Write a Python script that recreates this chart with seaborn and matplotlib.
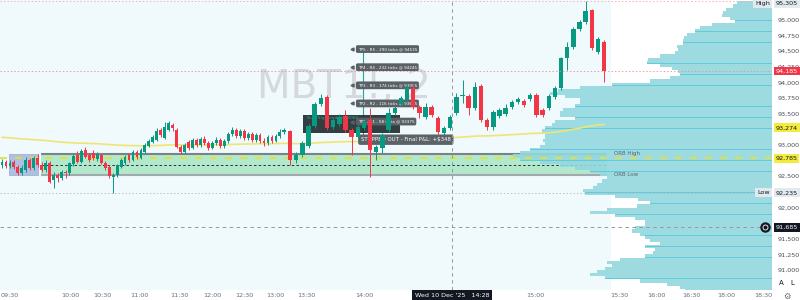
import numpy as np
import pandas as pd
import matplotlib
matplotlib.use("Agg")
import matplotlib.pyplot as plt
import seaborn as sns
from matplotlib.patches import Rectangle
from matplotlib.transforms import blended_transform_factory as blend

# ---------------- data ----------------
opens = [92680, 92728, 92664, 92728, 92648, 92552, 92600, 92760, 92632, 92792,
         92680, 92600, 92712, 92440, 92520, 92472, 92568, 92552, 92696, 92840,
         92728, 92920, 92840, 92872, 92776, 92840, 92712, 92648, 92488, 92520,
         92648, 92712, 92840, 92760, 92888, 92792, 92888, 92984, 93048, 93080,
         93240, 93112, 93240, 93320, 93240, 92968, 92888, 93048, 92952, 93080,
         93000, 93096, 93032, 92952, 93032, 93080, 92984, 93064, 93176, 93240,
         93144, 93224, 93112, 93176, 93080, 93160, 93064, 93032, 93128, 93064,
         93144, 93208, 93224, 92760, 92840, 92984, 93304, 93656, 93768, 93288,
         93336, 93464, 93240, 93128, 93272, 93400, 92888, 92952, 93240, 93512,
         93656, 93720, 93912, 93608, 93448, 93608, 93432, 93192, 93272, 93512,
         93784, 93784, 93592, 93944, 93400, 93288, 93464, 93496, 93608, 93688,
         93704, 93736, 93800, 93560, 93592, 93768, 93912, 94392, 94568, 94856,
         94968, 95160, 94488, 94648]
closes = [92728, 92664, 92712, 92648, 92552, 92632, 92760, 92632, 92792, 92680,
          92600, 92712, 92408, 92520, 92472, 92568, 92552, 92712, 92824, 92728,
          92904, 92808, 92760, 92792, 92856, 92712, 92632, 92504, 92520, 92680,
          92760, 92808, 92760, 92888, 92808, 92920, 93000, 93064, 93128, 93224,
          93160, 93288, 93352, 93272, 92968, 92888, 93000, 92952, 93080, 93000,
          93096, 93032, 92952, 93032, 93080, 92984, 93064, 93176, 93240, 93144,
          93224, 93112, 93176, 93080, 93160, 93064, 93032, 93128, 93064, 93144,
          93208, 93240, 92760, 92840, 93032, 93304, 93656, 93752, 93272, 93400,
          93448, 93240, 93128, 93288, 93368, 92920, 92968, 93160, 93512, 93592,
          93752, 93912, 93608, 93512, 93608, 93480, 93208, 93272, 93448, 93768,
          93800, 93592, 93928, 93400, 93288, 93528, 93560, 93592, 93688, 93736,
          93640, 93800, 93480, 93480, 93784, 93912, 94392, 94568, 94856, 94968,
          95144, 94552, 94696, 94185]
highs = [92776, 92760, 92760, 92760, 92680, 92680, 92808, 92792, 92824, 92856,
         92728, 92760, 92744, 92568, 92552, 92600, 92600, 92728, 92856, 92904,
         92936, 92968, 92872, 92920, 92888, 92856, 92744, 92680, 92552, 92696,
         92792, 92840, 92872, 92920, 92920, 92952, 93032, 93096, 93160, 93272,
         93272, 93368, 93384, 93352, 93272, 93000, 93032, 93080, 93112, 93112,
         93128, 93144, 93064, 93064, 93128, 93112, 93096, 93208, 93288, 93272,
         93256, 93256, 93208, 93208, 93192, 93192, 93112, 93160, 93160, 93176,
         93256, 93272, 93240, 92888, 93064, 93336, 93688, 93816, 93800, 93432,
         93496, 93560, 93272, 93320, 93400, 93592, 93000, 93192, 93592, 93624,
         93784, 93976, 93976, 93640, 93672, 93640, 93464, 93304, 93480, 93832,
         94040, 93816, 94008, 93976, 93432, 93560, 93592, 93656, 93720, 93768,
         93736, 93832, 93832, 93592, 93816, 93944, 94408, 94648, 94888, 95000,
         95305, 95176, 94728, 94680]
lows = [92632, 92632, 92632, 92616, 92520, 92520, 92568, 92600, 92600, 92648,
        92568, 92568, 92392, 92312, 92408, 92440, 92472, 92520, 92664, 92712,
        92712, 92792, 92728, 92760, 92744, 92696, 92600, 92472, 92235, 92488,
        92632, 92680, 92728, 92744, 92776, 92776, 92872, 92968, 93032, 93064,
        93128, 93096, 93224, 93224, 92952, 92856, 92872, 92920, 92936, 92968,
        92968, 93000, 92920, 92936, 93000, 92952, 92952, 93032, 93144, 93112,
        93112, 93080, 93080, 93048, 93048, 93032, 92984, 93000, 93032, 93048,
        93112, 93176, 92680, 92712, 92808, 92952, 93272, 93624, 93240, 93256,
        93304, 93208, 92840, 93096, 93240, 92488, 92760, 92872, 93208, 93480,
        93624, 93688, 93576, 93432, 93416, 93448, 93176, 93160, 93240, 93480,
        93672, 93480, 93560, 93368, 93240, 93240, 93432, 93464, 93576, 93656,
        93608, 93704, 93448, 93448, 93560, 93736, 93880, 94200, 94536, 94824,
        94936, 94520, 94456, 94008]

time_labels = ["09:30", "10:00", "10:30", "11:00", "11:30", "12:00", "12:30", "13:00",
               "13:30", "14:00", "15:00", "15:30", "16:00", "16:30", "18:00", "18:30"]

# volume profile, 50-point rows from 95,300 downwards
vp_row_top = 95300
vp_row = 50
vp_volume = [35, 39, 46, 49, 50, 42, 37, 60, 72, 77,
             85, 88, 89, 89, 95, 94, 97, 112, 124, 125,
             112, 100, 94, 92, 102, 122, 160, 192, 214, 222,
             207, 192, 192, 197, 209, 212, 212, 197, 217, 220,
             227, 230, 227, 227, 229, 227, 232, 242, 252, 259,
             252, 232, 212, 197, 182, 172, 165, 170, 175, 179,
             189, 187, 157, 134, 122, 135, 165, 182, 157, 137,
             127, 127, 137, 140, 132, 127, 122, 112, 127, 117,
             119, 127, 152, 165, 160, 167, 175, 182, 167, 132,
             105, 92, 87]
vp_group_top = 94989   # brighter row separators of the profile
vp_group = 172

orb_high, orb_low = 92856, 92520
level_yellow = 92785
ema_seed, ema_span, ema_label = 93128, 180, 93274
high_price, low_price = 95305, 92235
cross_price, cross_label = 91685, "Wed 10 Dec '25   14:28"
entry_price = 93085
tp_prices = [93375, 93665, 93955, 94245, 94535]
tp_ticks = [58, 116, 174, 232, 290]
final_pnl = "+$348"
right_ticks = [91000, 91250, 91500, 92000, 92500, 93000, 93500, 93750,
               94000, 94250, 94500, 94750, 95000]

# ---------------- layout constants ----------------
time_tick_bars = [2.0, 17.1, 25.4, 34.5, 44.6, 52.9, 61.0, 68.8,
                  74.7, 84.0, 111.9, 125.4, 131.4, 137.1, 142.9, 148.9]
cross_bar = 98.3
trade_bar = 84
orb_first, orb_last = 2, 9

GREEN, RED = "#089981", "#f23645"
BG = "#f0f9fc"

sns.set_theme(style="white", rc={"lines.scale_dashes": False})
plt.rcParams["font.family"] = ["DejaVu Sans"]

fig = plt.figure(figsize=(8, 3), dpi=100)
fig.patch.set_facecolor("white")
ax = fig.add_axes([0, 10 / 300, 772 / 800, 290 / 300])
ax.set_facecolor("white")

# bar-index scale: dense bars in the morning, wider bars later
X0, S1, BRK, S2 = 2.0, 3.97, 71, 6.16
PB = X0 + BRK * S1


def fwd(i):
    i = np.asarray(i, dtype=float)
    return np.where(i <= BRK, X0 + i * S1, PB + (i - BRK) * S2)


def inv(p):
    p = np.asarray(p, dtype=float)
    return np.where(p <= PB, (p - X0) / S1, BRK + (p - PB) / S2)


ax.set_xscale("function", functions=(fwd, inv))
xl, xr = float(inv(0)), float(inv(772))
ax.set_xlim(xl, xr)
ax.set_ylim(90680, 95320)

n = len(closes)
bars = np.arange(n)
o = np.array(opens, float); c = np.array(closes, float)
h = np.array(highs, float); l = np.array(lows, float)

# session background
ax.axvspan(xl, n - 1 + 1.1, color=BG, lw=0, zorder=0)

# watermark
ax.text(0.445, 0.70, "MBT1!, 2", transform=ax.transAxes, fontsize=28,
        color="#d5d8dc", ha="center", va="center", zorder=0.5)

# opening range box and band
ax.add_patch(Rectangle((orb_first - 0.25, orb_low), orb_last - orb_first + 0.35,
                       orb_high - orb_low, fc="#b0c0e2", ec="#9eabc9", lw=0.5, zorder=1.5))
b0, b1 = orb_last + 0.8, n - 1 + 0.45
ax.add_patch(Rectangle((b0, orb_low), b1 - b0, orb_high - orb_low,
                       fc="#b2e8cb", ec="none", zorder=1.6))
ax.hlines(orb_high, b0, b1, color="#7d8286", lw=1.5, zorder=2.2)
ax.hlines(orb_low, b0, b1, color="#a3a9ad", lw=1.5, zorder=2.2)
ax.hlines((orb_high + orb_low) / 2, b0, b1, color="#2a2e39", lw=0.7,
          linestyles=(0, (1.8, 1.6)), zorder=2.3)
ax.text(n - 1 + 1.6, orb_high, "ORB High", fontsize=4, color="#5d606b", va="center", zorder=6)
ax.text(n - 1 + 1.6, orb_low, "ORB Low", fontsize=4, color="#5d606b", va="center", zorder=6)

# volume profile
vp = np.array(vp_volume, float)
vp_prices = vp_row_top - vp_row / 2 - vp_row * np.arange(len(vp))
vp_scale = 42.1 / vp.max()
w = vp * vp_scale
ax.barh(vp_prices, w, left=xr - w, height=vp_row, color="#93d8de", lw=0,
        alpha=0.9, zorder=2.5)
# brighter separators between coarser profile groups
sep = np.arange(vp_group_top, 90700, -vp_group)
sep_idx = np.clip(((vp_row_top - sep) // vp_row).astype(int), 0, len(vp) - 1)
sep_w = w[sep_idx]
ax.barh(sep, sep_w, left=xr - sep_w, height=14, color="#5fcbdc", lw=0, zorder=2.55)

# yellow level
ax.axhline(level_yellow, color="#e6df35", lw=1.3, ls=(0, (5, 5.8)), zorder=3)

# EMA
ema = pd.Series([ema_seed] + list(closes)).ewm(span=ema_span, adjust=False).mean().iloc[1:].to_numpy()
sns.lineplot(x=bars, y=ema, ax=ax, color="#efe574", lw=1.2, zorder=3, sort=False)

# trade annotation
ax.vlines(trade_bar - 0.15, entry_price, tp_prices[-1], color="#26a69a", lw=0.8, zorder=3.2)
ax.add_patch(Rectangle((trade_bar - 9.9, entry_price + 107), 15.7, 288,
                       fc="#1d2a2c", ec="none", alpha=0.9, zorder=3.3))
ax.text(trade_bar - 9.3, entry_price + 340, f"Buy Triggered @ {entry_price}",
        fontsize=3.2, color="#2aa58a", va="center", zorder=3.35)
for k, (p, t) in enumerate(zip(tp_prices, tp_ticks), start=1):
    ax.text(trade_bar - 1.0, p, f"TP{k} - R{k} - {t} ticks @ {p}", fontsize=3,
            color="white", ha="left", va="center", zorder=3.5,
            bbox=dict(boxstyle="round,pad=0.45,rounding_size=0.4", fc="#596166", ec="none"))
    ax.plot([trade_bar - 1.9], [p], marker="<", ms=2.2, color="#596166", zorder=3.5)
ax.text(trade_bar - 0.5, entry_price, f"STOPPED OUT - Final P&L: {final_pnl}", fontsize=3.9,
        color="white", ha="left", va="center", zorder=3.5,
        bbox=dict(boxstyle="round,pad=0.5,rounding_size=0.4", fc="#5b6368", ec="none"))

# candles
colors = np.where(c >= o, GREEN, RED)
ax.vlines(bars, l, h, colors=colors, lw=0.7, zorder=4)
ax.bar(bars, np.maximum(np.abs(c - o), 12), bottom=np.minimum(o, c), width=0.72,
       color=colors, lw=0, zorder=5)

# price lines
ax.axhline(high_price, color="#f1a7ae", lw=0.6, ls=(0, (1, 1.5)), zorder=6)
ax.axhline(c[-1], color="#f08a93", lw=0.6, ls=(0, (1, 1.5)), zorder=6)
ax.axhline(low_price, color="#b2b5be", lw=0.6, ls=(0, (1, 1.5)), zorder=6)
ax.axhline(cross_price, color="#9598a1", lw=0.7, ls=(0, (2.5, 2.5)), zorder=6)
ax.axvline(cross_bar, color="#9598a1", lw=0.7, ls=(0, (2.5, 2.5)), zorder=6)

# axes
for s in ax.spines.values():
    s.set_visible(False)
ax.yaxis.tick_right()
ax.set_yticks(right_ticks)
ax.set_yticklabels([f"{v:,}" for v in right_ticks])
ax.tick_params(axis="y", length=0, pad=4, labelsize=4.6, labelcolor="#4c4f59")
ax.set_xticks(time_tick_bars)
ax.set_xticklabels(time_labels)
ax.tick_params(axis="x", length=0, pad=2.2, labelsize=4.6, labelcolor="#6a6d78")
ax.set_xlabel(""); ax.set_ylabel("")
ax.grid(False)

tr_y = blend(ax.transAxes, ax.transData)


def tag(price, text, fc, tc):
    ax.text(1 + 3.5 / 772, price, text, transform=tr_y, fontsize=4.6, color=tc,
            ha="left", va="center", clip_on=False, zorder=20,
            bbox=dict(boxstyle="square,pad=0.3", fc=fc, ec="none"))


def side(price, text):
    ax.text(1 - 2 / 772, price, text, transform=tr_y, fontsize=4.6, color="#131722",
            ha="right", va="center", clip_on=False, zorder=20,
            bbox=dict(boxstyle="square,pad=0.3", fc="#e3eaee", ec="none"))


hp = min(high_price, 95320 - 50)
tag(hp, f"{high_price:,}", "#e3eaee", "#131722"); side(hp, "High")
tag(c[-1], f"{int(c[-1]):,}", RED, "white")
tag(ema_label, f"{ema_label:,}", "#f4ec3c", "#131722")
tag(level_yellow, f"{level_yellow:,}", "#f4ec3c", "#131722")
tag(low_price, f"{low_price:,}", "#e3eaee", "#131722"); side(low_price, "Low")
tag(cross_price, f"{cross_price:,}", "#131722", "white")
ax.plot([1 - 7 / 772], [cross_price], transform=tr_y, marker="o", ms=6.5,
        mfc="#131722", mec="#131722", clip_on=False, zorder=21)
ax.plot([1 - 7 / 772], [cross_price], transform=tr_y, marker="o", ms=3.6,
        mfc="none", mec="white", mew=0.6, clip_on=False, zorder=22)

ax.text(cross_bar, -0.019, cross_label, transform=blend(ax.transData, ax.transAxes),
        fontsize=4.6, color="white", ha="center", va="center", clip_on=False, zorder=20,
        bbox=dict(boxstyle="square,pad=0.45", fc="#131722", ec="none"))

fig.text(781 / 800, 1 - 283 / 300, "A", fontsize=5, ha="center", va="center", color="#131722")
fig.text(792 / 800, 1 - 283 / 300, "L", fontsize=5, ha="center", va="center", color="#131722")
fig.text(787 / 800, 1 - 296 / 300, "\u2699", fontsize=6, ha="center", va="center", color="#6a6d78")

fig.savefig("out.png", dpi=100, facecolor="white")
